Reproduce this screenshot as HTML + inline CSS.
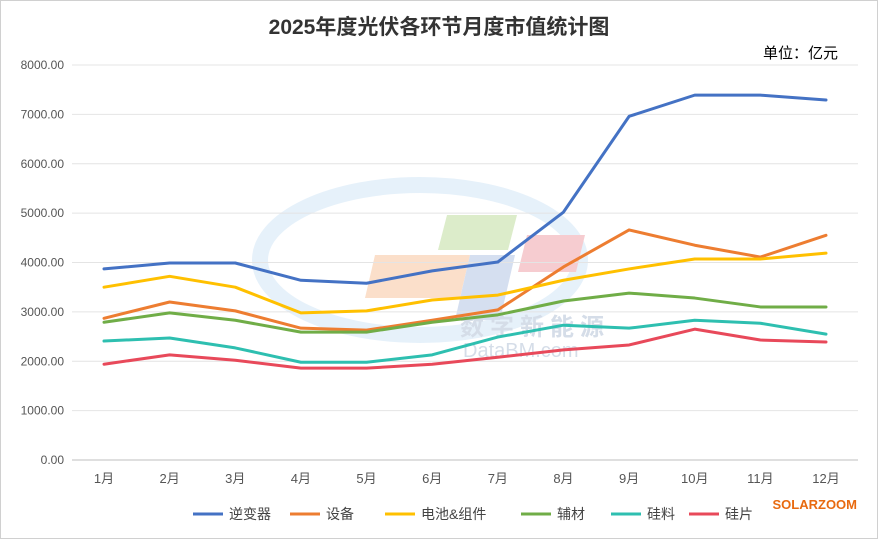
<!DOCTYPE html>
<html><head><meta charset="utf-8"><style>
body{margin:0;background:#fff;}
svg{display:block;font-family:"Liberation Sans","Noto Sans CJK SC",sans-serif;}
</style></head><body>
<svg id="chart" width="878" height="539">
<rect x="0.5" y="0.5" width="877" height="538" fill="#fff" stroke="#d0d0d0"/>
<g opacity="0.35">
<ellipse cx="420" cy="260" rx="160" ry="75" fill="none" stroke="#b8d8f2" stroke-width="16"/>
<polygon points="375,255 470,255 460,298 365,298" fill="#f4a46a"/>
<polygon points="447,215 517,215 508,250 438,250" fill="#9ccb6a"/>
<polygon points="527,235 585,235 576,272 518,272" fill="#e8707a"/>
<polygon points="470,255 515,255 500,320 455,320" fill="#8aa4d6"/>
<text x="460" y="335" font-size="24" fill="#8aa0c0" font-weight="bold" letter-spacing="6">数字新能源</text>
<text x="463" y="357" font-size="20" fill="#8aa0c0">DataBM.com</text>
</g>
<text x="439" y="34" text-anchor="middle" font-size="21" font-weight="bold" fill="#333">2025年度光伏各环节月度市值统计图</text>
<text x="838" y="58" text-anchor="end" font-size="15" fill="#000">单位：亿元</text>
<g id="grid"></g><g id="yticks"></g><g id="xticks"></g><g id="series"></g><g id="legend"></g>
<text x="857" y="509" text-anchor="end" font-size="13" font-weight="bold" fill="#e86a10">SOLARZOOM</text>
</svg>
<script>
const months=["1月","2月","3月","4月","5月","6月","7月","8月","9月","10月","11月","12月"];
const yTickValues=[0,1000,2000,3000,4000,5000,6000,7000,8000];
const seriesNames=["逆变器","设备","电池&组件","辅材","硅料","硅片"];
const seriesColors=["#4472c4","#ed7d31","#ffc000","#70ad47","#2ebfb0","#e8495a"];
const inverter=[3870,3990,3990,3640,3580,3830,4010,5020,6960,7390,7390,7290];
const equipment=[2870,3200,3020,2670,2630,2830,3040,3910,4660,4350,4110,4550];
const cellModule=[3500,3720,3500,2980,3020,3240,3340,3640,3870,4070,4070,4190];
const auxiliary=[2790,2980,2830,2590,2590,2790,2940,3220,3380,3280,3100,3100];
const polysilicon=[2410,2470,2270,1980,1980,2130,2490,2730,2670,2830,2770,2550];
const wafer=[1940,2130,2020,1860,1860,1940,2080,2230,2330,2650,2430,2390];
const allSeries=[inverter,equipment,cellModule,auxiliary,polysilicon,wafer];
const NS="http://www.w3.org/2000/svg";
const x=i=>104+i*(826-104)/11;
const y=v=>460-v*(460-65)/8000;
function mk(t,a,p){const e=document.createElementNS(NS,t);for(const k in a)e.setAttribute(k,a[k]);p.appendChild(e);return e;}
const grid=document.getElementById('grid'),yt=document.getElementById('yticks'),xt=document.getElementById('xticks');
yTickValues.forEach(v=>{
 const l=mk('line',{x1:72,x2:858,y1:y(v),y2:y(v),stroke:v===0?'#bfbfbf':'#e4e4e4'},grid);
 
 
 const t=mk('text',{x:64,y:y(v)+4,'text-anchor':'end','font-size':12,fill:'#555'},yt);
 t.textContent=v.toFixed(2);
 
 
});
months.forEach((m,i)=>{
 const t=mk('text',{x:x(i),y:483,'text-anchor':'middle','font-size':13,fill:'#555'},xt);
 t.textContent=m;
 
 
});
const sg=document.getElementById('series');
allSeries.forEach((d,s)=>{
 const p=mk('polyline',{points:d.map((v,i)=>x(i)+','+y(v)).join(' '),fill:'none',stroke:seriesColors[s],'stroke-width':3,'stroke-linejoin':'round','stroke-linecap':'round'},sg);
 
 
});
const lg=document.getElementById('legend');
const legX=[193,290,385,521,611,689];
seriesNames.forEach((n,s)=>{
 const g=mk('g',{},lg);
 
 
 mk('line',{x1:legX[s],x2:legX[s]+30,y1:514,y2:514,stroke:seriesColors[s],'stroke-width':3},g);
 const t=mk('text',{x:legX[s]+36,y:519,'font-size':14,fill:'#444'},g);
 t.textContent=n;
});
</script>
</body></html>
